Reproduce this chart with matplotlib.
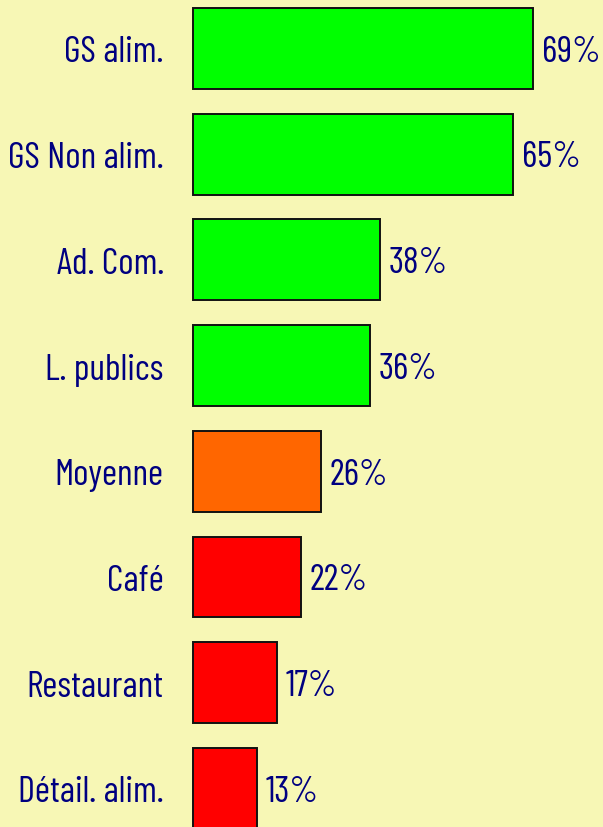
import matplotlib.pyplot as plt
from matplotlib import font_manager
from matplotlib.font_manager import FontProperties
from matplotlib.textpath import TextPath

# data
categories = ["GS alim.", "GS Non alim.", "Ad. Com.", "L. publics",
              "Moyenne", "Café", "Restaurant", "Détail. alim."]
values = [69, 65, 38, 36, 26, 22, 17, 13]
colors = ["#00FF00", "#00FF00", "#00FF00", "#00FF00",
          "#FF6600", "#FF0000", "#FF0000", "#FF0000"]

bg = "#F7F7B5"
txt = "#000080"


def label_width(prop):
    return TextPath((0, 0), "GS Non alim.", size=25, prop=prop).get_extents().width * 100 / 72


# narrowest condensed regular face, the original uses a condensed type
fp = FontProperties(family="DejaVu Sans")
best_w = None
seen = set()
for f in sorted(font_manager.fontManager.ttflist, key=lambda f: f.fname):
    nm = (f.name + " " + f.fname).lower()
    if f.fname in seen or len(seen) > 12:
        continue
    if f.style != "normal" or f.weight not in (400, "normal", "regular"):
        continue
    if not ("condensed" in nm or "narrow" in nm):
        continue
    if "semicondensed" in nm.replace("-", "").replace(" ", "") or "mono" in nm:
        pass
    seen.add(f.fname)
    try:
        p = FontProperties(fname=f.fname)
        wd = label_width(p)
    except Exception:
        continue
    if best_w is None or wd < best_w:
        fp, best_w = p, wd
if best_w is None:
    best_w = label_width(fp)

fs = min(27, 25 * 152 / best_w)
fp.set_size(fs)

fig = plt.figure(figsize=(6.03, 8.28), dpi=100, facecolor=bg)
ax = fig.add_axes([193 / 603, 0, 410 / 603, 1])
ax.set_facecolor(bg)

y = list(range(len(categories)))
bars = ax.barh(y, values, height=0.766, color=colors, edgecolor="#111111", linewidth=1.4)
for b in bars:
    b.set_clip_on(False)

ax.set_xlim(0, 410 / 4.93)
ax.set_ylim((828 - 49.5) / 105.7, -49.5 / 105.7)

ax.set_yticks(y)
ax.set_yticklabels(categories, color=txt, fontproperties=fp)
ax.tick_params(axis="y", length=0, pad=21)
ax.set_xticks([])
for s in ax.spines.values():
    s.set_visible(False)

for yi, v in zip(y, values):
    ax.annotate(f"{v}%", (v, yi), xytext=(6, -2), textcoords="offset points",
                va="center", ha="left", color=txt, fontproperties=fp)

plt.savefig("out.png", facecolor=bg)
